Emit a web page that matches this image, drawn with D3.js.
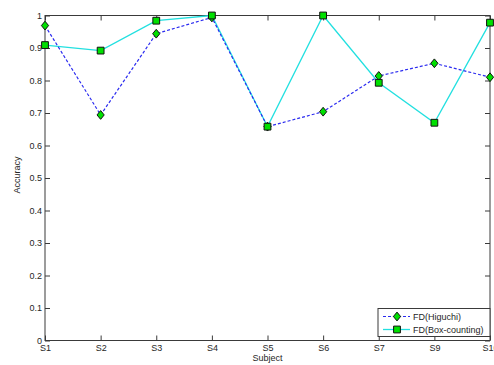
<!DOCTYPE html>
<html>
<head>
<meta charset="utf-8">
<script src="https://cdn.jsdelivr.net/npm/d3@7"></script>
<style>
  html, body { margin: 0; padding: 0; background: #fff; }
  svg { display: block; }
  text { font-family: "Liberation Sans", Arial, sans-serif; fill: #262626; }
</style>
</head>
<body>
<svg id="chart" width="494" height="365"></svg>
<script>
// Classification accuracy per subject for two fractal-dimension features
const subjects = ["S1", "S2", "S3", "S4", "S5", "S6", "S7", "S9", "S10"];
const higuchi = [0.969, 0.694, 0.944, 0.994, 0.658, 0.704, 0.814, 0.853, 0.810];
const boxCounting = [0.909, 0.892, 0.984, 1.0, 0.658, 1.0, 0.793, 0.670, 0.978];
const yTicks = [0, 0.1, 0.2, 0.3, 0.4, 0.5, 0.6, 0.7, 0.8, 0.9, 1];
const yTickLabels = ["0", "0.1", "0.2", "0.3", "0.4", "0.5", "0.6", "0.7", "0.8", "0.9", "1"];
const seriesNames = ["FD(Higuchi)", "FD(Box-counting)"];

const svg = d3.select("#chart");
const m = { left: 45, right: 490, top: 15.5, bottom: 340.5 };

const x = d3.scalePoint().domain(subjects).range([m.left, m.right]);
const y = d3.scaleLinear().domain([0, 1]).range([m.bottom, m.top]);

const axisColor = "#3a3a3a";
const fontSize = 9;

// Frame
svg.append("rect")
  .attr("x", m.left).attr("y", m.top)
  .attr("width", m.right - m.left).attr("height", m.bottom - m.top)
  .attr("fill", "none").attr("stroke", axisColor).attr("stroke-width", 1);

// Axes with inward ticks
function styleAxis(g) {
  g.select(".domain").remove();
  g.selectAll(".tick line").attr("stroke", axisColor);
  g.selectAll(".tick text").attr("fill", "#262626")
    .style("font-family", "Liberation Sans, Arial, sans-serif")
    .style("font-size", fontSize + "px");
}

svg.append("g").attr("transform", `translate(0,${m.bottom})`)
  .call(d3.axisBottom(x).tickSizeInner(-5).tickSizeOuter(0).tickPadding(3))
  .call(styleAxis)
  .call(g => g.selectAll(".tick text").attr("y", 4));

svg.append("g").attr("transform", `translate(0,${m.top})`)
  .call(d3.axisTop(x).tickSizeInner(-5).tickSizeOuter(0).tickFormat(""))
  .call(styleAxis);

svg.append("g").attr("transform", `translate(${m.left},0)`)
  .call(d3.axisLeft(y).tickValues(yTicks).tickFormat((d, i) => yTickLabels[i])
    .tickSizeInner(-5).tickSizeOuter(0).tickPadding(3))
  .call(styleAxis)
  .call(g => g.selectAll(".tick text").attr("x", -3));

svg.append("g").attr("transform", `translate(${m.right},0)`)
  .call(d3.axisRight(y).tickValues(yTicks).tickFormat("")
    .tickSizeInner(-5).tickSizeOuter(0))
  .call(styleAxis);

// Axis titles
svg.append("text")
  .attr("x", (m.left + m.right) / 2).attr("y", 361)
  .attr("text-anchor", "middle").attr("font-size", fontSize)
  .text("Subject");

svg.append("text")
  .attr("transform", `translate(20,${(m.top + m.bottom) / 2 - 3}) rotate(-90)`)
  .attr("text-anchor", "middle").attr("font-size", fontSize)
  .text("Accuracy");

// Marker shapes: a rhombus slightly taller than wide, and a square
const rhombus = {
  draw(ctx, size) {
    const h = Math.sqrt(size) * 0.62, w = h * 0.82;
    ctx.moveTo(0, -h); ctx.lineTo(w, 0); ctx.lineTo(0, h); ctx.lineTo(-w, 0); ctx.closePath();
  }
};
const markerFill = "#00e000";
const diamond = d3.symbol().type(rhombus).size(50);
const square = d3.symbol().type(d3.symbolSquare).size(46);

const line = d3.line().x((d, i) => x(subjects[i])).y(d => y(d));

const series = [
  { name: seriesNames[0], values: higuchi, color: "#2b2bf0", dash: "3,2", width: 1.2, symbol: diamond },
  { name: seriesNames[1], values: boxCounting, color: "#22e0e0", dash: null, width: 1.3, symbol: square }
];

// Box-counting drawn first, Higuchi line over it
[series[1], series[0]].forEach(s => {
  svg.append("path")
    .attr("d", line(s.values))
    .attr("fill", "none")
    .attr("stroke", s.color)
    .attr("stroke-width", s.width)
    .attr("stroke-dasharray", s.dash);
});

[series[0], series[1]].forEach(s => {
  svg.append("g").selectAll("path")
    .data(s.values)
    .join("path")
    .attr("transform", (d, i) => `translate(${x(subjects[i])},${y(d)})`)
    .attr("d", s.symbol())
    .attr("fill", markerFill)
    .attr("stroke", "#111")
    .attr("stroke-width", 1);
});

// Legend
const lg = svg.append("g");
const lx = 378, ly = 308.5, lw = 112, lh = 28;
lg.append("rect")
  .attr("x", lx).attr("y", ly).attr("width", lw).attr("height", lh)
  .attr("fill", "#fff").attr("stroke", axisColor).attr("stroke-width", 1);

series.forEach((s, i) => {
  const yy = ly + 8 + i * 13;
  lg.append("line")
    .attr("x1", lx + 5).attr("x2", lx + 32).attr("y1", yy).attr("y2", yy)
    .attr("stroke", s.color).attr("stroke-width", s.width)
    .attr("stroke-dasharray", s.dash);
  lg.append("path")
    .attr("transform", `translate(${lx + 19},${yy})`)
    .attr("d", s.symbol())
    .attr("fill", markerFill).attr("stroke", "#111").attr("stroke-width", 1);
  lg.append("text")
    .attr("x", lx + 35).attr("y", yy + 3.2)
    .attr("font-size", fontSize)
    .text(s.name);
});
</script>
</body>
</html>
